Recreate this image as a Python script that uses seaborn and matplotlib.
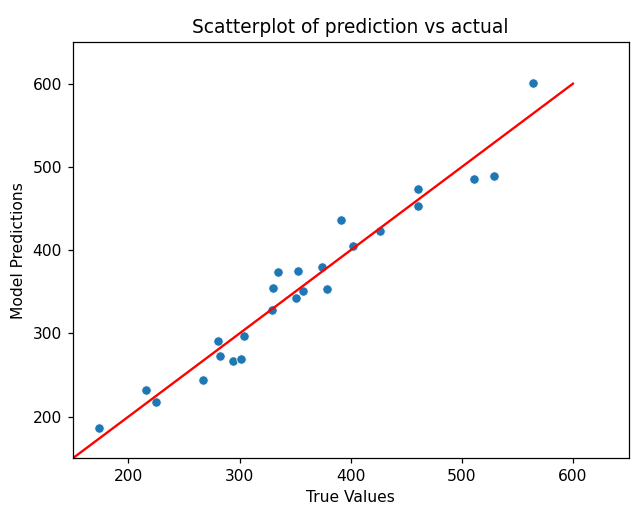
import matplotlib
matplotlib.use("Agg")
import matplotlib.pyplot as plt
import seaborn as sns
import pandas as pd

true_values = [173.3, 215.8, 224.9, 267.5, 280.7, 282.8, 294.5, 301.1, 303.8,
               329.3, 330.2, 334.4, 350.6, 352.7, 356.9, 374.0, 378.8, 391.4,
               402.2, 426.5, 461.0, 461.0, 511.4, 528.8, 564.2]
predictions = [186.0, 232.0, 218.0, 244.0, 291.0, 273.0, 266.8, 269.5, 296.4,
               327.6, 354.4, 373.2, 342.0, 374.4, 350.4, 380.0, 353.2, 436.8,
               404.4, 423.1, 473.2, 452.8, 485.2, 489.1, 601.2]
line_x = [150, 600]
line_y = [150, 600]

df = pd.DataFrame({"True Values": true_values, "Model Predictions": predictions})

DPI = 112
fig = plt.figure(figsize=(637 / DPI, 519 / DPI), dpi=DPI)
ax = fig.add_axes([0.1143, 0.117, 0.8724, 0.802])
sns.scatterplot(data=df, x="True Values", y="Model Predictions", ax=ax)
ax.plot(line_x, line_y, color="red")
ax.set_xlim(150, 650)
ax.set_ylim(150, 650)
ax.set_xticks([200, 300, 400, 500, 600])
ax.set_yticks([200, 300, 400, 500, 600])
ax.set_title("Scatterplot of prediction vs actual")
fig.savefig("out.png", dpi=DPI)
